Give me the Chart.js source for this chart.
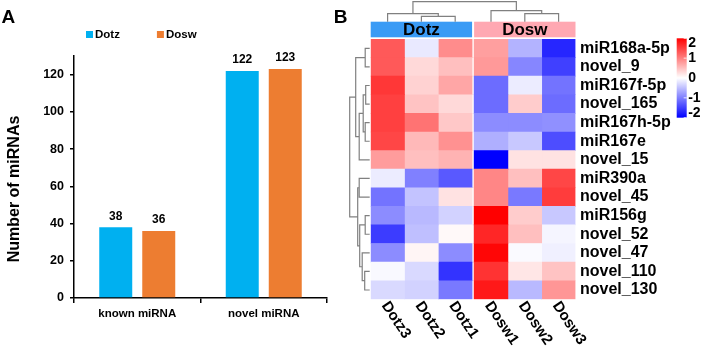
<!DOCTYPE html>
<html>
<head>
<meta charset="utf-8">
<script src="https://cdn.jsdelivr.net/npm/chart.js@4.4.1/dist/chart.umd.min.js"></script>
<style>
  html, body { margin: 0; padding: 0; background: #fff; }
  #wrap { position: relative; width: 706px; height: 350px; overflow: hidden; }
  canvas { position: absolute; top: 0; }
  #chart-bar { left: 0; }
  #chart-heat { left: 330px; }
</style>
</head>
<body>
<div id="wrap">
  <canvas id="chart-bar" width="330" height="350"></canvas>
  <canvas id="chart-heat" width="376" height="350"></canvas>
</div>
<script>
// DATA panel A
const categories = ["known miRNA", "novel miRNA"];
const dotzCounts = [38, 122];
const doswCounts = [36, 123];

// DATA panel B (z-score per miRNA)
const mirnaNames = ["miR168a-5p", "novel_9", "miR167f-5p", "novel_165", "miR167h-5p", "miR167e",
  "novel_15", "miR390a", "novel_45", "miR156g", "novel_52", "novel_47", "novel_110", "novel_130"];
const sampleNames = ["Dotz3", "Dotz2", "Dotz1", "Dosw1", "Dosw2", "Dosw3"];
const groupNames = ["Dotz", "Dosw"];
const dotz3 = [1.3, 1.3, 1.57, 1.5, 1.5, 1.45, 0.78, -0.15, -1.1, -0.9, -1.53, -0.9, -0.05, -0.3];
const dotz2 = [-0.17, 0.3, 0.35, 0.47, 1.1, 0.55, 0.5, -1.0, -0.47, -0.55, -0.5, 0.08, -0.3, -0.35];
const dotz1 = [0.9, 0.5, 0.7, 0.3, 0.43, 0.86, 0.6, -1.3, 0.23, -0.35, 0.05, -0.9, -1.6, -1.05];
const dosw1 = [0.75, 0.8, -1.15, -1.15, -0.9, -0.63, -2.0, 0.95, 0.95, 2.0, 1.7, 1.95, 1.6, 1.8];
const dosw2 = [-0.6, -0.95, -0.15, 0.4, -0.9, -0.43, 0.23, 0.5, -1.05, 0.4, 0.5, -0.04, 0.2, -0.55];
const dosw3 = [-1.7, -1.5, -1.1, -1.15, -0.87, -1.4, 0.23, 1.45, 1.53, -0.43, -0.08, -0.12, 0.47, 0.82];
const colorbarTicks = [2, 1, 0, -1, -2];

// clustering: [childA, childB, distance], leaves first, new nodes numbered after
const rowLinkage = [
  [0, 1, 2.25], [2, 3, 2.0], [4, 5, 2.25], [15, 16, 3.25], [17, 6, 5.25], [14, 18, 7],
  [7, 8, 5.25], [9, 10, 2.25], [12, 13, 2.5], [11, 22, 3.75], [21, 23, 5], [20, 24, 6],
  [19, 25, 10]
];
const colLinkage = [[1, 2, 2.65], [0, 6, 4], [4, 5, 4], [3, 8, 5.5], [7, 9, 10]];

const FONT = '"Liberation Sans", Arial, sans-serif';
const BLUE = "#00B0F0";
const ORANGE = "#ED7D31";
const GROUP_COLORS = ["#3A9BF5", "#FFA8B2"];

function zColor(z) {
  const t = Math.max(-1, Math.min(1, z / 2));
  if (t >= 0) {
    const g = Math.round(255 * (1 - t));
    return `rgb(255,${g},${g})`;
  }
  const g = Math.round(255 * (1 + t));
  return `rgb(${g},${g},255)`;
}

// PANEL A
const barExtras = {
  id: "barExtras",
  afterDatasetsDraw(chart) {
    const ctx = chart.ctx;
    ctx.save();
    ctx.fillStyle = "#000";
    ctx.font = `bold 12px ${FONT}`;
    ctx.textAlign = "center";
    ctx.textBaseline = "middle";
    chart.data.datasets.forEach((ds, i) => {
      chart.getDatasetMeta(i).data.forEach((bar, j) => {
        ctx.fillText(String(ds.data[j]), bar.x, bar.y - 11);
      });
    });
    ctx.restore();
  },
  afterDraw(chart) {
    const ctx = chart.ctx;
    const area = chart.chartArea;
    ctx.save();
    // panel letter
    ctx.fillStyle = "#000";
    ctx.font = `bold 19px ${FONT}`;
    ctx.textBaseline = "alphabetic";
    ctx.textAlign = "left";
    ctx.fillText("A", 1.5, 22.7);

    // y title
    ctx.font = `bold 16px ${FONT}`;
    ctx.textAlign = "center";
    ctx.textBaseline = "middle";
    ctx.translate(15, (area.top + area.bottom) / 2 + 12);
    ctx.rotate(-Math.PI / 2);
    ctx.fillText("Number of miRNAs", 0, 0);
    ctx.setTransform(1, 0, 0, 1, 0, 0);

    // legend
    ctx.font = `bold 11.5px ${FONT}`;
    ctx.textAlign = "left";
    let x = 86;
    chart.data.datasets.forEach(ds => {
      ctx.fillStyle = ds.backgroundColor;
      ctx.fillRect(x, 31, 7, 7);
      ctx.fillStyle = "#000";
      ctx.fillText(ds.label, x + 9, 35);
      x += 9 + ctx.measureText(ds.label).width + 37;
    });
    ctx.restore();
  }
};

const barChart = new Chart(document.getElementById("chart-bar"), {
  type: "bar",
  data: {
    labels: categories,
    datasets: [
      { label: "Dotz", data: dotzCounts, backgroundColor: BLUE },
      { label: "Dosw", data: doswCounts, backgroundColor: ORANGE }
    ]
  },
  options: {
    responsive: false,
    animation: false,
    layout: { padding: { top: 56, right: 3, left: 0, bottom: 0 } },
    datasets: { bar: { categoryPercentage: 0.68, barPercentage: 0.767 } },
    scales: {
      x: {
        grid: { drawOnChartArea: false, color: "#000", tickLength: 5, lineWidth: 1.5 },
        border: { color: "#000", width: 1.5 },
        ticks: { font: { family: FONT, weight: "bold", size: 11.5 }, color: "#000", padding: 4 },
        afterFit: s => { s.height = 52; }
      },
      y: {
        min: 0,
        max: 130,
        ticks: {
          stepSize: 20,
          includeBounds: false,
          font: { family: FONT, weight: "bold", size: 12.5 },
          color: "#000",
          padding: 6
        },
        grid: { drawOnChartArea: false, color: "#000", tickLength: 4, lineWidth: 1.5 },
        border: { color: "#000", width: 1.5 },
        afterFit: s => { s.width = 74; }
      }
    },
    plugins: { legend: { display: false }, tooltip: { enabled: false } }
  },
  plugins: [barExtras]
});

// PANEL B
const heatCols = [dotz3, dotz2, dotz1, dosw1, dosw2, dosw3];
const GROUP_GAP = 0.06;
const colStart = sampleNames.map((_, c) => c + (c >= 3 ? GROUP_GAP : 0));

function drawDendro(ctx, linkage, leafPos, base, unit, orient) {
  const pos = leafPos.slice();
  const hgt = leafPos.map(() => 0);
  ctx.beginPath();
  linkage.forEach(([a, b, h]) => {
    const pa = pos[a], pb = pos[b];
    const ha = base - hgt[a] * unit, hb = base - hgt[b] * unit, hh = base - h * unit;
    if (orient === "left") {
      ctx.moveTo(ha, pa); ctx.lineTo(hh, pa); ctx.lineTo(hh, pb); ctx.lineTo(hb, pb);
    } else {
      ctx.moveTo(pa, ha); ctx.lineTo(pa, hh); ctx.lineTo(pb, hh); ctx.lineTo(pb, hb);
    }
    pos.push((pa + pb) / 2);
    hgt.push(h);
  });
  ctx.stroke();
}

const heatExtras = {
  id: "heatExtras",
  afterDraw(chart) {
    const ctx = chart.ctx;
    const area = chart.chartArea;
    const xs = chart.scales.x;
    const ys = chart.scales.y;
    ctx.save();

    ctx.fillStyle = "#000";
    ctx.font = `bold 19px ${FONT}`;
    ctx.textAlign = "left";
    ctx.textBaseline = "alphabetic";
    ctx.fillText("B", 3.7, 22.7);

    // group annotation bars
    const annTop = area.top - 17.3;
    const annH = 15.6;
    groupNames.forEach((g, k) => {
      const l = xs.getPixelForValue(colStart[k * 3]);
      const r = xs.getPixelForValue(colStart[k * 3 + 2] + 1);
      ctx.fillStyle = GROUP_COLORS[k];
      ctx.fillRect(l, annTop, r - l, annH);
      ctx.fillStyle = "#000";
      ctx.font = `bold 17px ${FONT}`;
      ctx.textAlign = "center";
      ctx.textBaseline = "middle";
      ctx.fillText(g, (l + r) / 2, annTop + annH / 2 + 1);
    });

    // dendrograms
    ctx.strokeStyle = "#808080";
    ctx.lineWidth = 1.2;
    const rowPos = mirnaNames.map((_, i) => ys.getPixelForValue(i));
    drawDendro(ctx, rowLinkage, rowPos, area.left - 1, 2, "left");
    const colPos = colStart.map(s => (xs.getPixelForValue(s) + xs.getPixelForValue(s + 1)) / 2);
    drawDendro(ctx, colLinkage, colPos, annTop, 2, "top");

    // sample labels
    ctx.fillStyle = "#000";
    ctx.font = `bold 15px ${FONT}`;
    ctx.textAlign = "left";
    ctx.textBaseline = "middle";
    sampleNames.forEach((s, c) => {
      ctx.save();
      ctx.translate(colPos[c] - 3, area.bottom + 4);
      ctx.rotate(56 * Math.PI / 180);
      ctx.fillText(s, 0, 0);
      ctx.restore();
    });

    // colour bar
    const cbX = area.right + 101.2, cbW = 10;
    const cbTop = area.top - 0.7, cbH = 79.4;
    const grad = ctx.createLinearGradient(0, cbTop, 0, cbTop + cbH);
    grad.addColorStop(0, zColor(2));
    grad.addColorStop(0.5, zColor(0));
    grad.addColorStop(1, zColor(-2));
    ctx.fillStyle = grad;
    ctx.fillRect(cbX, cbTop, cbW, cbH);
    ctx.font = `bold 14px ${FONT}`;
    ctx.textAlign = "left";
    ctx.textBaseline = "middle";
    colorbarTicks.forEach(v => {
      const y = cbTop + (2 - v) / 4 * cbH;
      ctx.strokeStyle = "rgba(255,255,255,0.8)";
      ctx.lineWidth = 1;
      ctx.beginPath();
      ctx.moveTo(cbX + cbW - 3, y);
      ctx.lineTo(cbX + cbW, y);
      ctx.stroke();
      const ly = Math.max(cbTop + 4.5, Math.min(cbTop + cbH - 4.5, y));
      ctx.fillStyle = "#000";
      ctx.fillText(String(v), cbX + cbW + 1.5, ly);
    });
    ctx.restore();
  }
};

const heatChart = new Chart(document.getElementById("chart-heat"), {
  type: "bar",
  data: {
    labels: mirnaNames,
    datasets: heatCols.map((vals, c) => ({
      label: sampleNames[c],
      data: vals.map(() => [colStart[c], colStart[c] + 1]),
      backgroundColor: vals.map(zColor),
      borderWidth: 0,
      barPercentage: 1,
      categoryPercentage: 1,
      grouped: false
    }))
  },
  options: {
    indexAxis: "y",
    responsive: false,
    animation: false,
    layout: { padding: { left: 40.7, top: 39, bottom: 50.7, right: 0 } },
    scales: {
      x: { type: "linear", min: 0, max: 6 + GROUP_GAP, display: false },
      y: {
        position: "right",
        grid: { display: false, drawTicks: false },
        border: { display: false },
        ticks: {
          autoSkip: false,
          font: { family: FONT, weight: "bold", size: 16 },
          color: "#000",
          padding: 4.5
        },
        afterFit: s => { s.width = 130.5; }
      }
    },
    plugins: { legend: { display: false }, tooltip: { enabled: false } }
  },
  plugins: [heatExtras]
});
</script>
</body>
</html>
